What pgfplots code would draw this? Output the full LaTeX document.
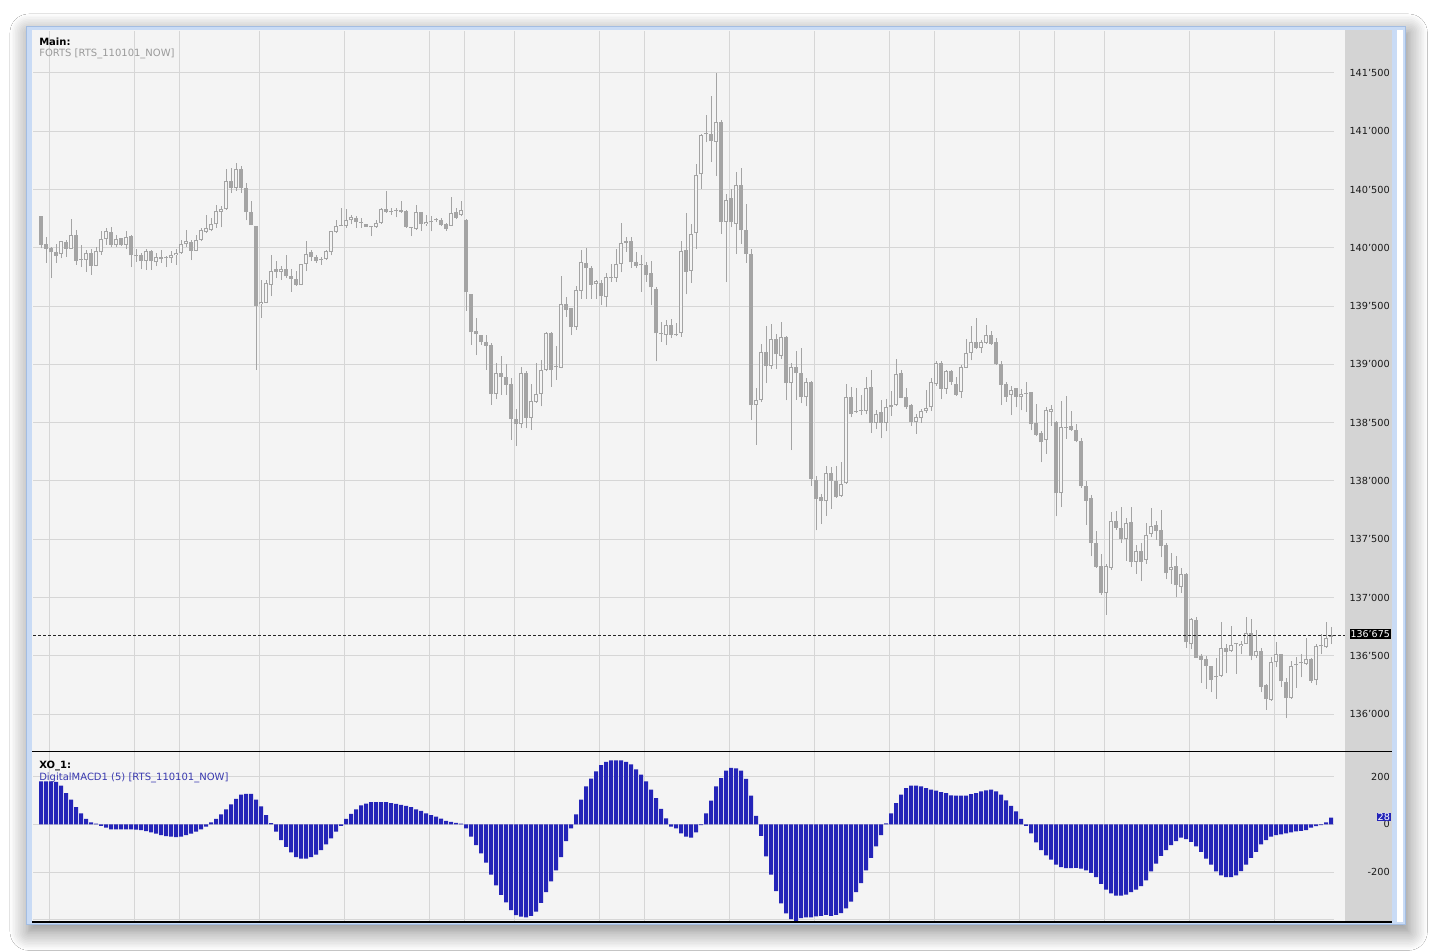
\documentclass[border=0pt]{standalone}
\usepackage{pgfplots}
\pgfplotsset{compat=1.18}
\usepackage{pgfplotstable}
\usepackage{fontspec}
\setmainfont{DejaVu Sans}
\usetikzlibrary{shadows.blur}
\definecolor{bg}{HTML}{F4F4F4}
\definecolor{band}{HTML}{D4D4D4}
\definecolor{gridc}{HTML}{D6D6D6}
\definecolor{candle}{HTML}{A4A4A4}
\definecolor{macd}{HTML}{2424B8}
\definecolor{frame}{HTML}{C9DBF5}
\definecolor{frameedge}{HTML}{A3BDE2}
\definecolor{labgrey}{HTML}{9A9A9A}
\definecolor{labblue}{HTML}{3A3AB0}
\definecolor{tickc}{HTML}{1A1A1A}

\pgfplotstableread{
k o h l c m
0 140270 140275 139995 140025 180
1 140030 140090 139870 139990 180
2 140000 140010 139740 139960 180
3 139965 140035 139870 139930 178
4 139945 140060 139910 140060 162
5 140050 140070 139925 139990 131
6 139990 140245 139990 140110 103
7 140110 140155 139855 139890 72
8 139905 140020 139835 139895 46
9 139895 139985 139795 139955 23
10 139955 139990 139770 139845 8
11 139845 140010 139840 139970 3
12 139960 140145 139940 140075 -6
13 140075 140170 140025 140140 -14
14 140135 140175 140010 140025 -21
15 140020 140110 140010 140075 -21
16 140080 140085 140015 140025 -21
17 140025 140145 139990 140090 -21
18 140105 140110 139835 139935 -21
19 139930 139990 139880 139935 -22
20 139935 139955 139815 139885 -24
21 139885 139990 139810 139975 -28
22 139975 139985 139810 139885 -34
23 139875 139955 139840 139925 -39
24 139925 139985 139870 139905 -45
25 139910 139930 139835 139910 -49
26 139910 139970 139870 139935 -52
27 139935 139990 139855 139955 -54
28 139955 140070 139950 140030 -51
29 140030 140155 140010 140060 -45
30 140050 140070 139895 139975 -39
31 139975 140110 139970 140070 -31
32 140070 140170 140055 140150 -21
33 140135 140285 140125 140170 -10
34 140155 140255 140140 140205 8
35 140200 140370 140170 140315 23
36 140310 140355 140175 140335 42
37 140335 140675 140325 140570 63
38 140575 140685 140470 140515 84
39 140515 140725 140490 140675 107
40 140675 140705 140470 140515 124
41 140510 140560 140235 140305 128
42 140310 140405 140195 140195 128
43 140185 140190 138955 139500 103
44 139515 139720 139400 139535 75
45 139525 139720 139525 139700 39
46 139685 139940 139585 139805 5
47 139820 139885 139740 139795 -31
48 139795 139840 139725 139815 -66
49 139815 139940 139740 139755 -94
50 139755 139815 139625 139735 -118
51 139735 139800 139675 139680 -137
52 139680 139860 139680 139860 -144
53 139865 140060 139800 139950 -144
54 139960 139985 139885 139920 -137
55 139925 139935 139870 139885 -127
56 139905 139925 139855 139895 -108
57 139905 139985 139895 139975 -84
58 139965 140140 139935 140140 -59
59 140135 140240 140125 140190 -31
60 140190 140340 140185 140190 -6
61 140190 140335 140170 140240 23
62 140235 140285 140200 140260 44
63 140255 140275 140170 140220 63
64 140215 140255 140170 140215 79
65 140200 140205 140180 140180 87
66 140180 140185 140100 140175 93
67 140180 140235 140170 140215 93
68 140215 140340 140205 140335 93
69 140335 140485 140300 140305 93
70 140310 140340 140285 140305 89
71 140315 140345 140260 140315 86
72 140320 140405 140300 140305 82
73 140315 140320 140170 140180 77
74 140175 140180 140100 140170 72
75 140160 140365 140155 140305 63
76 140305 140305 140145 140200 56
77 140200 140285 140190 140220 46
78 140220 140270 140140 140220 39
79 140235 140255 140220 140235 32
80 140240 140255 140185 140195 24
81 140205 140215 140145 140160 15
82 140190 140435 140185 140295 10
83 140305 140340 140250 140255 6
84 140280 140405 140270 140320 3
85 140240 140245 139460 139620 -17
86 139605 139605 139170 139275 -52
87 139285 139400 139080 139260 -87
88 139255 139255 139170 139190 -122
89 139195 139255 138955 139160 -160
90 139170 139180 138655 138745 -211
91 138745 139010 138700 138930 -256
92 138930 139075 138740 138890 -296
93 138895 139005 138740 138825 -327
94 138830 138885 138355 138530 -359
95 138535 138620 138300 138490 -380
96 138490 138975 138450 138930 -387
97 138930 138945 138450 138540 -390
98 138540 138830 138440 138685 -383
99 138675 139010 138670 138750 -366
100 138750 139040 138640 138955 -329
101 138955 139280 138940 139265 -284
102 139270 139280 138810 138950 -239
103 138980 139155 138870 138975 -193
104 138970 139760 138965 139520 -137
105 139520 139580 139410 139465 -70
106 139480 139485 139250 139320 -17
107 139320 139675 139295 139640 42
108 139630 139980 139565 139875 103
109 139870 139995 139565 139825 159
110 139830 139845 139565 139685 191
111 139690 139725 139565 139715 222
112 139700 139720 139510 139585 248
113 139580 139785 139495 139750 262
114 139745 139865 139705 139745 268
115 139745 139990 139705 139860 268
116 139865 140215 139790 140040 268
117 140040 140095 139965 140055 262
118 140055 140095 139830 139875 251
119 139875 139965 139825 139845 230
120 139855 139935 139625 139850 208
121 139855 139880 139710 139770 180
122 139785 139885 139505 139660 145
123 139650 139665 139025 139265 110
124 139265 139360 139195 139260 65
125 139255 139380 139165 139340 25
126 139340 139390 139225 139255 -10
127 139255 139355 139240 139250 -17
128 139265 140060 139235 139975 -38
129 139985 140300 139600 139795 -52
130 139805 140205 139700 140120 -56
131 140125 140720 139990 140625 -34
132 140630 140980 140505 140970 -3
133 140975 141140 140905 140975 46
134 140980 141305 140735 140915 99
135 140910 141500 140620 141080 159
136 141080 141095 140120 140220 194
137 140220 140460 139705 140410 225
138 140430 140505 140175 140220 237
139 140205 140650 139945 140540 234
140 140540 140685 140035 140150 225
141 140155 140375 139870 139950 190
142 139950 139990 138525 138650 120
143 138650 138795 138310 138695 35
144 138690 139175 138675 139110 -48
145 139110 139330 138840 138985 -134
146 138985 139350 138960 139220 -211
147 139220 139260 138960 139085 -280
148 139070 139360 139045 139235 -331
149 139235 139245 138690 138840 -373
150 138840 139015 138265 138980 -397
151 138980 139115 138695 138925 -404
152 138930 139140 138665 138720 -393
153 138720 138880 138640 138850 -390
154 138850 138860 137960 138015 -390
155 138010 138045 137575 137845 -386
156 137865 137890 137630 137825 -383
157 137825 138130 137700 138065 -379
158 138065 138120 137760 138000 -383
159 138000 138130 137855 137860 -379
160 137870 138160 137865 137975 -372
161 137980 138830 137975 138720 -352
162 138720 138810 138545 138570 -324
163 138600 138800 138580 138595 -284
164 138600 138740 138565 138600 -246
165 138600 138890 138570 138800 -193
166 138805 138955 138415 138495 -141
167 138495 138605 138445 138570 -92
168 138590 138690 138365 138500 -45
169 138495 138700 138425 138630 4
170 138655 138770 138560 138635 46
171 138650 139050 138645 138915 89
172 138925 138950 138710 138715 124
173 138720 138795 138615 138630 152
174 138650 138660 138475 138505 162
175 138505 138570 138405 138545 162
176 138540 138615 138500 138600 159
177 138600 138780 138585 138625 152
178 138630 138885 138600 138850 145
179 138830 139030 138815 139015 141
180 139010 139030 138700 138790 135
181 138790 138950 138750 138945 131
182 138945 138950 138825 138850 121
183 138830 138890 138730 138740 120
184 138765 138995 138710 138975 120
185 138970 139220 138965 139095 120
186 139100 139330 139035 139195 127
187 139190 139400 139130 139140 131
188 139140 139205 139100 139190 138
189 139185 139335 139175 139255 142
190 139255 139290 139170 139175 145
191 139190 139230 138995 139000 138
192 139005 139025 138650 138825 124
193 138835 138845 138680 138720 100
194 138735 138815 138565 138780 77
195 138795 138800 138630 138720 54
196 138720 138785 138605 138750 23
197 138750 138845 138595 138750 -6
198 138760 138765 138435 138485 -38
199 138500 138660 138385 138395 -76
200 138415 138425 138160 138330 -108
201 138350 138630 138235 138605 -130
202 138595 138650 138475 138615 -148
203 138505 138515 137695 137895 -169
204 137895 138685 137775 138465 -179
205 138455 138730 138360 138455 -183
206 138470 138600 138430 138440 -183
207 138440 138485 138330 138345 -182
208 138345 138365 137940 137955 -186
209 137960 138000 137625 137830 -193
210 137850 137875 137355 137470 -203
211 137465 137570 137255 137265 -221
212 137270 137370 137020 137040 -249
213 137040 137285 136850 137270 -273
214 137255 137735 137240 137660 -289
215 137655 137740 137580 137600 -299
216 137600 137780 137470 137500 -299
217 137500 137680 137315 137635 -294
218 137645 137780 137260 137305 -284
219 137305 137450 137205 137395 -273
220 137395 137470 137140 137305 -259
221 137325 137640 137290 137540 -235
222 137545 137765 137515 137610 -197
223 137620 137655 137495 137570 -165
224 137575 137750 137345 137440 -132
225 137450 137470 137155 137210 -108
226 137240 137385 137120 137265 -87
227 137270 137355 137005 137105 -70
228 137090 137255 137040 137205 -56
229 137200 137210 136570 136615 -62
230 136600 136825 136555 136815 -73
231 136805 136835 136485 136485 -92
232 136500 136515 136270 136465 -115
233 136470 136500 136215 136415 -144
234 136415 136415 136185 136295 -169
235 136315 136485 136130 136315 -197
236 136330 136790 136320 136565 -214
237 136565 136600 136350 136535 -221
238 136540 136755 136535 136595 -221
239 136600 136605 136345 136600 -214
240 136580 136630 136515 136600 -196
241 136605 136835 136600 136695 -169
242 136695 136815 136460 136500 -141
243 136495 136725 136485 136540 -115
244 136540 136570 136185 136235 -84
245 136245 136255 136035 136125 -66
246 136120 136490 136115 136450 -52
247 136445 136615 136400 136515 -45
248 136515 136515 136230 136280 -42
249 136275 136310 135965 136135 -38
250 136135 136455 136130 136415 -34
251 136420 136490 136225 136420 -30
252 136435 136515 136315 136435 -27
253 136430 136655 136420 136470 -24
254 136475 136485 136270 136285 -14
255 136290 136600 136245 136585 -7
256 136580 136690 136515 136580 -3
257 136575 136790 136570 136650 8
258 136665 136745 136600 136675 28
}\data

\pgfplotsset{
  rtsbase/.style={
    anchor=south west, scale only axis, width=975.75pt,
    xmin=-1.6, xmax=258.6,
    axis line style={draw=none},
    major tick length=0pt,
    scaled y ticks=false, scaled x ticks=false,
    xtick={1.6,18.6,27.6,43.6,60.6,77.6,84.6,94.6,111.6,120.6,137.6,154.6,169.6,178.6,195.6,202.6,212.6,229.6,246.6},
    xticklabels={},
    yticklabel pos=right,
    yticklabel style={anchor=east, inner sep=0pt, xshift=42pt, text=tickc, font=\fontsize{7.3}{8}\selectfont},
    grid=major, grid style={gridc, line width=0.75pt},
  },
  ebar/.style={draw=none, mark=none, forget plot},
}

\begin{document}
\begin{tikzpicture}
\begin{scope}[x=0.75pt,y=0.75pt]
\useasboundingbox (0,0) rectangle (1433,951);
\fill[white] (0,0) rectangle (1433,951);
\fill[frame, blur shadow={shadow xshift=2pt, shadow yshift=-5pt, shadow blur radius=14pt, shadow blur steps=12, shadow opacity=50}] (26,26) rectangle (1406,925);
\draw[frameedge, line width=0.75pt] (26.5,26.5) rectangle (1405.5,924.5);
\fill[bg] (32,29) rectangle (1392,921);
\fill[band] (1345,29) rectangle (1392,921);
\fill[white] (1397,29) rectangle (1403,921);
\end{scope}

% ---------- main panel ----------
\begin{axis}[rtsbase, at={(24.75pt,150pt)}, height=540pt,
  ymin=135683, ymax=141860,
  ytick={136000,136500,137000,137500,138000,138500,139000,139500,140000,140500,141000,141500},
  yticklabels={136'000,136'500,137'000,137'500,138'000,138'500,139'000,139'500,140'000,140'500,141'000,141'500},
]
% wicks
\addplot[ebar, error bars/.cd, y dir=plus, y explicit, error mark=none,
  error bar style={draw=candle, line width=0.75pt}]
  table[x=k, y=l, y error expr=\thisrow{h}-\thisrow{l}] {\data};
% falling bodies
\addplot[ebar, restrict expr to domain={\thisrow{o}-\thisrow{c}}{0.001:100000},
  error bars/.cd, y dir=plus, y explicit, error mark=none,
  error bar style={draw=candle, line width=2.55pt}]
  table[x=k, y=c, y error expr={max(\thisrow{o}-\thisrow{c},8.6)}] {\data};
% rising bodies, outline
\addplot[ebar, restrict expr to domain={\thisrow{c}-\thisrow{o}}{0:100000},
  error bars/.cd, y dir=plus, y explicit, error mark=none,
  error bar style={draw=candle, line width=2.55pt}]
  table[x=k, y=o, y error expr={max(\thisrow{c}-\thisrow{o},8.6)}] {\data};
% rising bodies, hollow inside
\addplot[ebar, restrict expr to domain={\thisrow{c}-\thisrow{o}}{0:100000},
  error bars/.cd, y dir=plus, y explicit, error mark=none,
  error bar style={draw=bg, line width=1.05pt}]
  table[x=k, y expr=\thisrow{o}+8.6, y error expr={max(\thisrow{c}-\thisrow{o}-17.2,0)}] {\data};
\end{axis}

% ---------- indicator panel ----------
\begin{axis}[rtsbase, at={(24.75pt,22.5pt)}, height=126.75pt,
  ymin=-405, ymax=303,
  ytick={-400,-200,0,200},
  yticklabels={,-200,0,200},
]
\addplot[ybar, bar width=3pt, bar shift=0pt, fill=macd, draw=none] table[x=k, y=m] {\data};
\end{axis}

\begin{scope}[x=0.75pt,y=0.75pt]
\fill[bg] (1334,29) rectangle (1345,921);
\draw[black!85, line width=0.75pt, dash pattern=on 2.25pt off 1.5pt] (33,316) -- (1345,316);
\draw[black, line width=1.1pt] (32,199.5) -- (1392,199.5);
\draw[black, line width=1.3pt] (32,29.3) -- (1392,29.3);
\node[anchor=base west, inner sep=0pt, font=\fontsize{7.5}{9}\selectfont\bfseries] at (39,905.5) {Main:};
\node[anchor=base west, inner sep=0pt, text=labgrey, font=\fontsize{7.5}{9}\selectfont] at (39,894) {FORTS [RTS\_110101\_NOW]};
\node[anchor=base west, inner sep=0pt, font=\fontsize{7.5}{9}\selectfont\bfseries] at (39,183) {XO\_1:};
\node[anchor=base west, inner sep=0pt, text=labblue, font=\fontsize{7.5}{9}\selectfont] at (39,171) {DigitalMACD1 (5) [RTS\_110101\_NOW]};
\node[anchor=east, fill=black, text=white, inner sep=0.7pt, font=\fontsize{7.1}{8}\selectfont] at (1391,317) {136'675};
\node[anchor=east, fill=macd, text=white, inner sep=0.6pt, font=\fontsize{7.3}{8}\selectfont] at (1391,134) {28};
\end{scope}
\end{tikzpicture}
\end{document}
